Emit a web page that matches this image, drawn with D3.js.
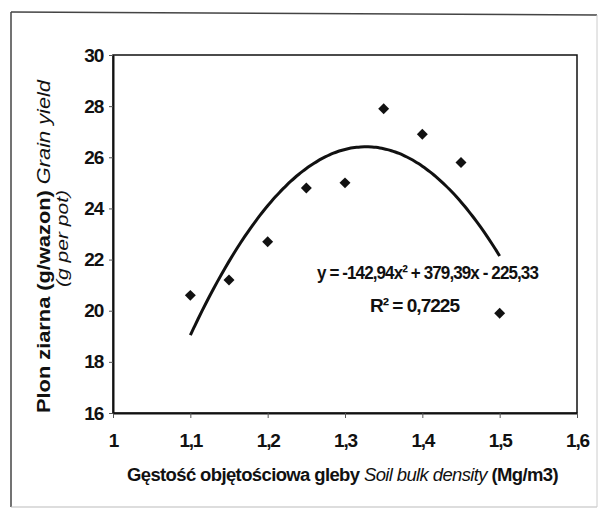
<!DOCTYPE html>
<html>
<head>
<meta charset="utf-8">
<script src="https://cdn.jsdelivr.net/npm/d3@7"></script>
<style>
	body { margin: 0; background: #fff; }
	svg { display: block; font-family: "Liberation Sans", Arial, sans-serif; }
</style>
</head>
<body>
<div id="plot"></div>
<script>

// density (Mg/m3) and grain yield (g per pot)
var density = [1.1, 1.15, 1.2, 1.25, 1.3, 1.35, 1.4, 1.45, 1.5];
var grainYield = [20.6, 21.2, 22.7, 24.8, 25.0, 27.9, 26.9, 25.8, 19.9];

// trend line coefficients as printed on the chart: a*x^2 + b*x + c
var trendCoef = [-142.94, 379.39, -225.33];
var trendRange = [1.1, 1.5];

var xTicks = [1, 1.1, 1.2, 1.3, 1.4, 1.5, 1.6];
var yTicks = [16, 18, 20, 22, 24, 26, 28, 30];

var width = 598, height = 510;
var ink = "#111";

var svg = d3.select("#plot").append("svg")
	.attr("width", width)
	.attr("height", height);

// outer frame, top/left darker as in the scan
svg.append("line").attr("x1", 11).attr("y1", 12).attr("x2", 597).attr("y2", 15)
	.attr("stroke", "#444").attr("stroke-width", 1.5);
svg.append("line").attr("x1", 11).attr("y1", 12).attr("x2", 11).attr("y2", 507)
	.attr("stroke", "#444").attr("stroke-width", 1.5);
svg.append("line").attr("x1", 11).attr("y1", 507).attr("x2", 597).attr("y2", 507)
	.attr("stroke", "#bbb").attr("stroke-width", 1);
svg.append("line").attr("x1", 597).attr("y1", 15).attr("x2", 597).attr("y2", 507)
	.attr("stroke", "#ccc").attr("stroke-width", 1);

var x = d3.scaleLinear().domain([1, 1.6]).range([113, 577]);
var y = d3.scaleLinear().domain([16, 30]).range([413, 55]);

var loc = d3.formatLocale({decimal: ",", thousands: " ", grouping: [3], currency: ["", ""]});
var fmt = loc.format(".1~f");

// plot area box
svg.append("rect")
	.attr("x", x(1)).attr("y", y(30))
	.attr("width", x(1.6) - x(1)).attr("height", y(16) - y(30))
	.attr("fill", "none").attr("stroke", ink).attr("stroke-width", 1.5);

var xAxis = svg.append("g")
	.attr("transform", "translate(0," + y(16) + ")")
	.call(d3.axisBottom(x).tickValues(xTicks).tickFormat(fmt).tickSizeInner(5).tickSizeOuter(0).tickPadding(16));

var yAxis = svg.append("g")
	.attr("transform", "translate(" + x(1) + ",0)")
	.call(d3.axisLeft(y).tickValues(yTicks).tickFormat(fmt).tickSizeInner(4).tickSizeOuter(0).tickPadding(6));

[xAxis, yAxis].forEach(function(ax){
	ax.select(".domain").attr("stroke", ink).attr("stroke-width", 2);
	ax.selectAll(".tick line").attr("stroke", "#555");
	ax.selectAll(".tick text")
		.attr("fill", ink)
		.style("font-family", "'Liberation Sans', Arial, sans-serif")
		.style("font-size", "19px")
		.style("font-weight", "bold")
		.style("letter-spacing", "-1.2px");
});

// trend line
var trendX = d3.range(trendRange[0], trendRange[1] + 0.0001, 0.005);
var line = d3.line()
	.x(function(d){ return x(d); })
	.y(function(d){ return y(trendCoef[0] * d * d + trendCoef[1] * d + trendCoef[2]); })
	.curve(d3.curveBasis);

svg.append("path")
	.datum(trendX)
	.attr("d", line)
	.attr("fill", "none")
	.attr("stroke", ink)
	.attr("stroke-width", 3);

// diamonds
var diamond = d3.symbol().type(d3.symbolSquare).size(60);
svg.selectAll(".pt")
	.data(density)
	.enter().append("path")
	.attr("class", "pt")
	.attr("d", diamond)
	.attr("transform", function(d, i){
		return "translate(" + x(d) + "," + y(grainYield[i]) + ") rotate(45)";
	})
	.attr("fill", ink);

// equation
svg.append("text")
	.attr("x", 317).attr("y", 279)
	.attr("fill", ink)
	.style("font-size", "19px")
	.style("font-weight", "bold")
	.style("letter-spacing", "-1px")
	.attr("textLength", 221)
	.attr("lengthAdjust", "spacingAndGlyphs")
	.text("y = -142,94x² + 379,39x - 225,33");

svg.append("text")
	.attr("x", 370).attr("y", 312)
	.attr("fill", ink)
	.style("font-size", "19px")
	.style("font-weight", "bold")
	.style("letter-spacing", "-1px")
	.attr("textLength", 89)
	.attr("lengthAdjust", "spacingAndGlyphs")
	.text("R² = 0,7225");

// x axis title
var xt = svg.append("text")
	.attr("x", 127).attr("y", 481)
	.attr("fill", ink)
	.style("font-size", "18px")
	.style("letter-spacing", "-0.6px")
	.attr("textLength", 431)
	.attr("lengthAdjust", "spacingAndGlyphs");
xt.append("tspan").style("font-weight", "bold").text("Gęstość objętościowa gleby ");
xt.append("tspan").style("font-style", "italic").text("Soil bulk density");
xt.append("tspan").style("font-weight", "bold").text(" (Mg/m3)");

// y axis title, two lines
var yt = svg.append("text")
	.attr("transform", "translate(50,413) rotate(-90)")
	.attr("fill", ink)
	.style("font-size", "18px")
	.attr("textLength", 333)
	.attr("lengthAdjust", "spacingAndGlyphs");
yt.append("tspan").style("font-weight", "bold").text("Plon ziarna (g/wazon) ");
yt.append("tspan").style("font-style", "italic").text("Grain  yield");

svg.append("text")
	.attr("transform", "translate(68,287) rotate(-90)")
	.attr("fill", ink)
	.style("font-size", "16px")
	.style("font-style", "italic")
	.attr("textLength", 97)
	.attr("lengthAdjust", "spacingAndGlyphs")
	.text("(g per pot)");

</script>
</body>
</html>
